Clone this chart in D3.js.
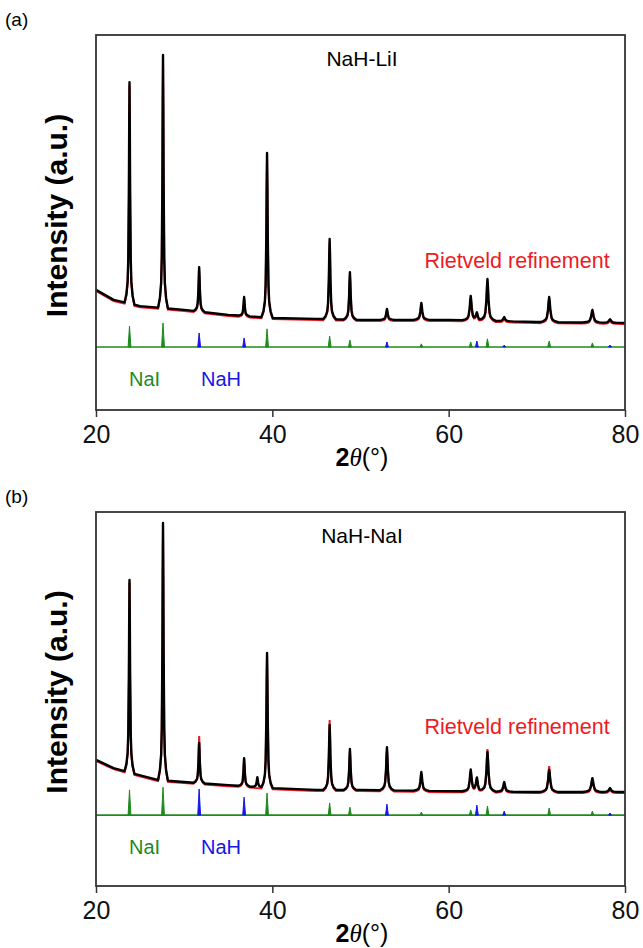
<!DOCTYPE html>
<html lang="en">
<head>
    <meta charset="utf-8">
    <title>XRD Rietveld</title>
    <script src="https://d3js.org/d3.v7.min.js"></script>
    <style>
        html, body {
            margin: 0;
            padding: 0;
            background: #fff;
        }
        text {
            font-family: "Liberation Sans", Arial, sans-serif;
        }
        .axis path { display: none; }
        .axis line { stroke: #333; stroke-width: 1.5px; }
        .axis text { font-size: 25px; fill: #111; }
    </style>
</head>
<body>
<script>

    // 2theta positions of the peaks (deg)
    var peakTheta = [23.8, 27.6, 31.7, 36.8, 38.3, 39.4, 46.5, 48.8, 53.0, 56.9, 62.5, 63.2, 64.4, 66.3, 71.4, 76.3, 78.3];
    // peak half widths (deg)
    var peakHw = [0.07, 0.07, 0.08, 0.08, 0.08, 0.08, 0.09, 0.09, 0.1, 0.11, 0.12, 0.12, 0.12, 0.12, 0.13, 0.14, 0.14];

    // panel (a) NaH-LiI
    var obsTopA  = [84.9, 93.6, 25.6, 16.0, null, 62.2, 34.6, 24.0, 12.2, 14.1, 16.3, 10.9, 21.8, 9.6, 16.0, 11.9, 8.9];
    var calcTopA = [84.0, 92.5, 25.0, 15.6, null, 61.5, 34.0, 23.6, 12.0, 13.8, 16.0, 10.7, 21.5, 9.3, 16.0, 11.6, 8.7];
    var bgThetaA = [20, 22, 25, 30, 35, 40, 45, 50, 60, 70, 80];
    var bgA      = [18.3, 15.1, 13.1, 11.9, 10.3, 9.3, 9.0, 8.7, 8.7, 8.0, 7.7];

    // panel (b) NaH-NaI
    var obsTopB  = [77.6, 96.4, 23.8, 18.8, 12.5, 53.5, 29.7, 21.8, 22.4, 14.2, 14.9, 12.2, 20.8, 10.9, 14.9, 12.2, 8.9];
    var calcTopB = [77.0, 95.5, 26.4, 18.5, null, 53.0, 31.7, 21.5, 22.0, 14.0, 14.6, 12.0, 22.1, 10.5, 16.5, 12.0, 8.7];
    var bgThetaB = [20, 22, 24, 27, 30, 35, 40, 45, 50, 60, 70, 80];
    var bgB      = [18.2, 15.5, 13.9, 11.6, 10.9, 9.9, 8.9, 8.3, 8.3, 7.9, 7.6, 7.6];

    // reference reflections
    var naiTheta = [23.8, 27.6, 39.4, 46.5, 48.8, 56.9, 62.5, 64.4, 71.4, 76.3];
    var naiA = [6.7, 7.7, 5.8, 3.5, 2.2, 1.0, 1.6, 2.6, 1.9, 1.3];
    var naiB = [8.3, 9.2, 7.3, 4.0, 2.6, 1.0, 1.7, 3.0, 2.3, 1.3];
    var nahTheta = [31.7, 36.8, 53.0, 63.2, 66.3, 78.3];
    var nahA = [4.5, 2.9, 1.6, 1.9, 0.6, 0.6];
    var nahB = [8.6, 5.9, 3.6, 3.3, 1.3, 0.7];

    var xTicks = [20, 40, 60, 80];

    // peak shape (offset in half widths -> fraction of height)
    var shapeOff = [0, 0.5, 1, 2, 3, 5, 8];
    var shapeFrac = [1, 0.8, 0.5, 0.2, 0.1, 0.04, 0];

    var w = 643, h = 948;
    var left = 96, right = 625;

    var svg = d3.select("body").append("svg")
        .attr("width", w)
        .attr("height", h);

    var shape = d3.scaleLinear().domain(shapeOff).range(shapeFrac).clamp(true);

    function profile(bgTheta, bgVal, tops, drop) {
        var bg = d3.scaleLinear().domain(bgTheta).range(bgVal.map(function(v) { return v - drop; }));
        var xs = bgTheta.slice();
        peakTheta.forEach(function(p, i) {
            if (tops[i] == null) return;
            shapeOff.forEach(function(o) {
                xs.push(p - o * peakHw[i]);
                xs.push(p + o * peakHw[i]);
            });
        });
        xs = Array.from(new Set(xs)).filter(function(t) { return t >= 20 && t <= 80; }).sort(d3.ascending);
        return xs.map(function(t) {
            var v = bg(t);
            peakTheta.forEach(function(p, i) {
                if (tops[i] == null) return;
                v += (tops[i] - drop - bg(p)) * shape(Math.abs(t - p) / peakHw[i]);
            });
            return [t, v];
        });
    }

    function panel(cfg) {
        var x = d3.scaleLinear().domain([20, 80]).range([left, right]);
        var y = d3.scaleLinear().domain(cfg.yDomain).range([cfg.bottom, cfg.top]);
        var g = svg.append("g");

        var line = d3.line()
            .x(function(d) { return x(d[0]); })
            .y(function(d) { return y(d[1]); });

        // reference line + ticks
        g.append("line")
            .attr("x1", left).attr("x2", right)
            .attr("y1", y(0)).attr("y2", y(0))
            .attr("stroke", "#1e8a1e").attr("stroke-width", 1.6);

        function refTicks(thetas, vals, color) {
            g.selectAll(null).data(thetas).enter().append("path")
                .attr("d", function(t, i) {
                    var x0 = x(t), y0 = y(0), y1 = y(vals[i]);
                    return "M" + (x0 - 1.4) + "," + y0 + "L" + x0 + "," + y1 + "L" + (x0 + 1.4) + "," + y0 + "Z";
                })
                .attr("fill", color)
                .attr("stroke", color)
                .attr("stroke-width", 1);
        }
        refTicks(cfg.naiTheta, cfg.nai, "#1e8a1e");
        refTicks(cfg.nahTheta, cfg.nah, "#1616e6");

        // calculated (red) then observed (black)
        g.append("path")
            .datum(profile(cfg.bgTheta, cfg.bg, cfg.calc, 0.35))
            .attr("d", line)
            .attr("fill", "none")
            .attr("stroke", "#ec1c24")
            .attr("stroke-width", 2);

        g.append("path")
            .datum(profile(cfg.bgTheta, cfg.bg, cfg.obs, 0))
            .attr("d", line)
            .attr("fill", "none")
            .attr("stroke", "#000")
            .attr("stroke-width", 2.4)
            .attr("stroke-linejoin", "round");

        // frame
        g.append("rect")
            .attr("x", left).attr("y", cfg.top)
            .attr("width", right - left).attr("height", cfg.bottom - cfg.top)
            .attr("fill", "none")
            .attr("stroke", "#333")
            .attr("stroke-width", 1.8);

        g.append("g")
            .attr("class", "axis")
            .attr("transform", "translate(0," + cfg.bottom + ")")
            .call(d3.axisBottom(x).tickValues(xTicks).tickSize(7).tickPadding(8).tickSizeOuter(0));

        // texts
        g.append("text")
            .attr("x", 5).attr("y", cfg.top - 9)
            .style("font-size", "19px")
            .text(cfg.tag);

        g.append("text")
            .attr("x", 362).attr("y", cfg.top + 31)
            .attr("text-anchor", "middle")
            .style("font-size", "21px")
            .text(cfg.title);

        g.append("text")
            .attr("x", 517).attr("y", cfg.rietY)
            .attr("text-anchor", "middle")
            .style("font-size", "21.5px")
            .attr("fill", "#ec1c24")
            .text("Rietveld refinement");

        g.append("text")
            .attr("x", 129).attr("y", y(0) + 39)
            .style("font-size", "20px")
            .attr("fill", "#1e8a1e")
            .text("NaI");
        g.append("text")
            .attr("x", 201).attr("y", y(0) + 39)
            .style("font-size", "20px")
            .attr("fill", "#1616e6")
            .text("NaH");

        g.append("text")
            .attr("transform", "translate(67," + ((cfg.top + cfg.bottom) / 2 - 7) + ") rotate(-90)")
            .attr("text-anchor", "middle")
            .style("font-size", "30px")
            .style("font-weight", "bold")
            .text("Intensity (a.u.)");

        var xl = g.append("text")
            .attr("x", 362).attr("y", cfg.bottom + 56)
            .attr("text-anchor", "middle")
            .style("font-size", "25px");
        xl.append("tspan").style("font-weight", "bold").text("2");
        xl.append("tspan").style("font-family", "'Liberation Serif', serif").style("font-style", "italic").text("\u03b8");
        xl.append("tspan").text("(\u00b0)");
    }

    panel({
        tag: "(a)", title: "NaH-LiI",
        top: 35, bottom: 410, yDomain: [-20.2, 100], rietY: 268,
        obs: obsTopA, calc: calcTopA, bgTheta: bgThetaA, bg: bgA,
        naiTheta: naiTheta, nai: naiA, nahTheta: nahTheta, nah: nahA
    });

    panel({
        tag: "(b)", title: "NaH-NaI",
        top: 512, bottom: 886, yDomain: [-23.4, 100], rietY: 734,
        obs: obsTopB, calc: calcTopB, bgTheta: bgThetaB, bg: bgB,
        naiTheta: naiTheta, nai: naiB, nahTheta: nahTheta, nah: nahB
    });

</script>
</body>
</html>
